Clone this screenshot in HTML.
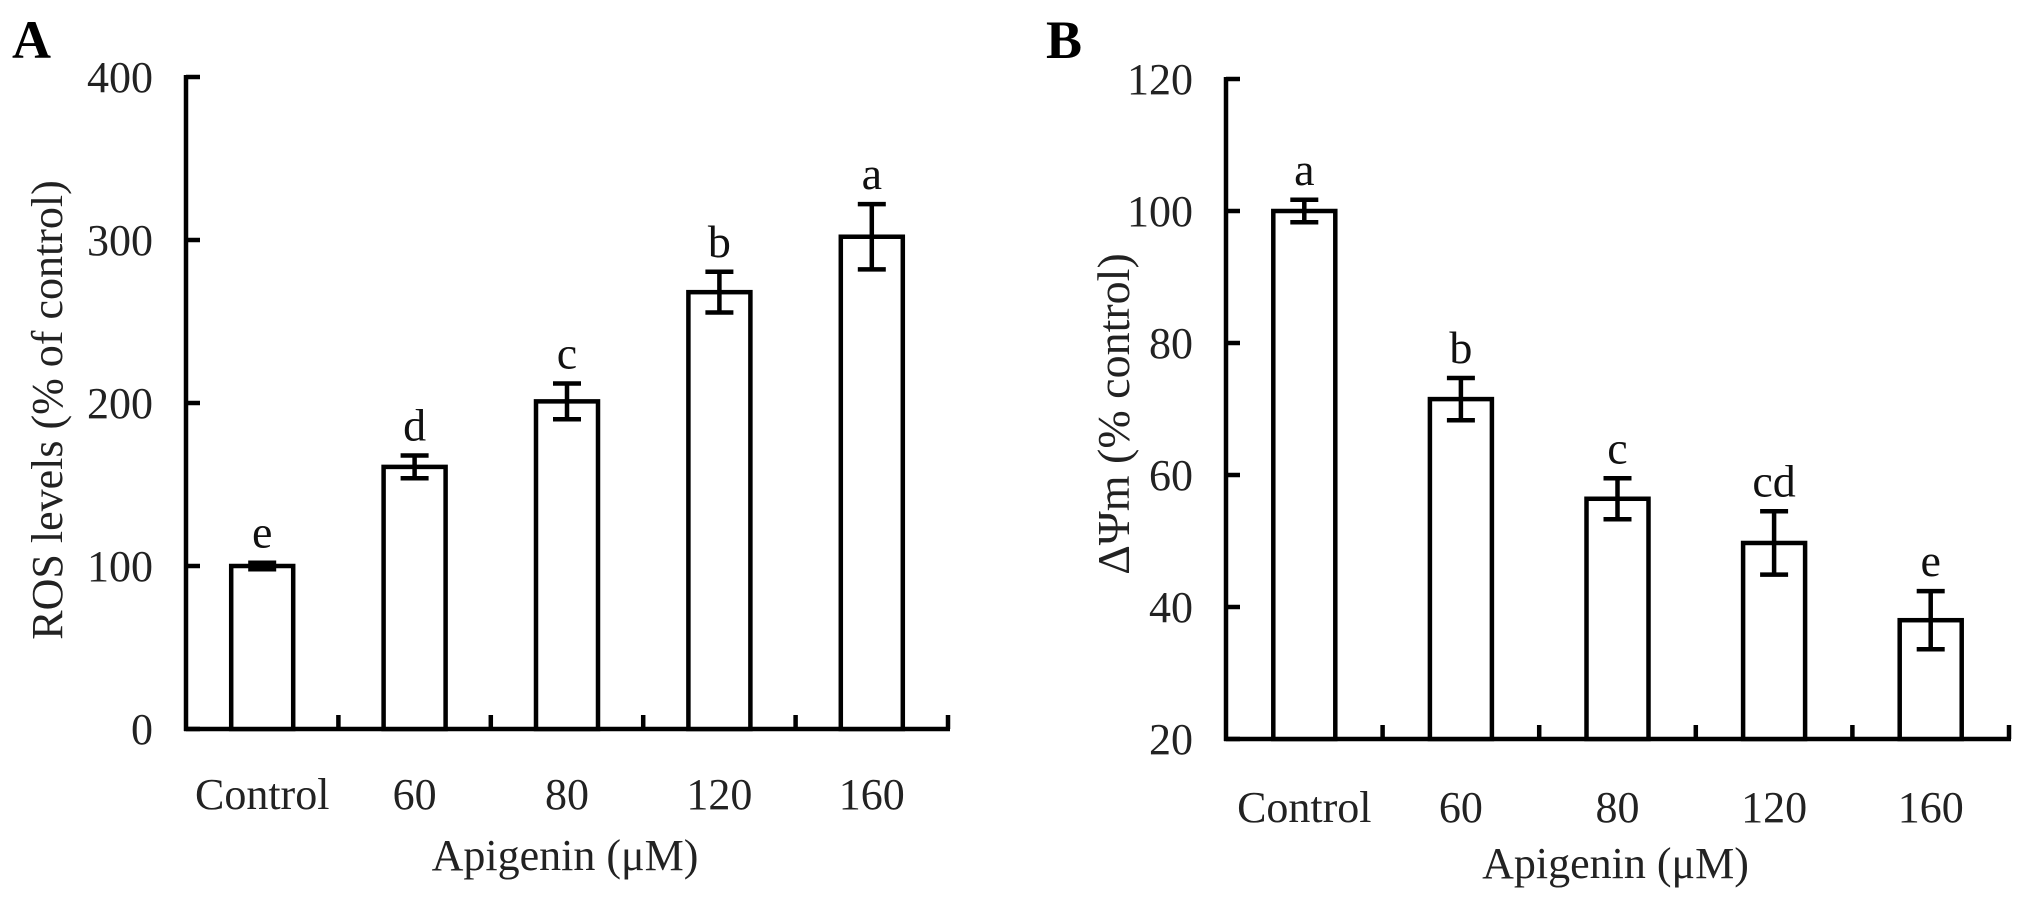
<!DOCTYPE html>
<html><head><meta charset="utf-8"><style>
html,body{margin:0;padding:0;background:#fff;}
svg{display:block;font-family:"Liberation Serif","Times New Roman",serif;}
</style></head><body>
<svg id="chart" width="2031" height="905" viewBox="0 0 2031 905"></svg>
<script>
const categories = ["Control","60","80","120","160"];
const rosValues = [100, 160.8, 201, 268, 302];
const rosErrors = [2, 7, 11, 12.5, 20];
const rosLetters = ["e","d","c","b","a"];
const rosTicks = [0,100,200,300,400];
const psiValues = [100, 71.5, 56.4, 49.7, 38.0];
const psiErrors = [1.7, 3.2, 3.1, 4.8, 4.4];
const psiLetters = ["a","b","c","cd","e"];
const psiTicks = [20,40,60,80,100,120];

const NS = "http://www.w3.org/2000/svg";
const svg = document.getElementById('chart');
function mk(tag, attrs, parent){
  const e = document.createElementNS(NS, tag);
  for (const k in attrs) e.setAttribute(k, attrs[k]);
  (parent||svg).appendChild(e);
  return e;
}

function panel(o){
  const g = mk('g', {});
  
  
  const y = v => o.y0 - (v - o.vmin) / (o.vmax - o.vmin) * (o.y0 - o.y1);
  const cw = (o.xEnd - o.x0) / categories.length;
  const cx = i => o.x0 + cw * (i + 0.5);
  const sw = 4.5;
  const ya = mk('line', {x1:o.x0, y1:o.y1-2, x2:o.x0, y2:o.y0+2, stroke:'#000','stroke-width':sw}, g);
  
  
  const xa = mk('line', {x1:o.x0-2, y1:o.y0, x2:o.xEnd+2, y2:o.y0, stroke:'#000','stroke-width':sw}, g);
  
  
  o.ticks.forEach(t => {
    const ty = y(t);
    const tl = mk('line', {x1:o.x0, y1:ty, x2:o.x0+14, y2:ty, stroke:'#000','stroke-width':sw}, g);
    
    
    const tx = mk('text', {x:o.x0-33, y:ty+15, 'text-anchor':'end','font-size':44, fill:'#222'}, g);
    tx.textContent = t;
    
    
  });
  for (let i = 1; i <= categories.length; i++) {
    const xx = o.x0 + cw * i;
    const xt = mk('line', {x1:xx, y1:o.y0, x2:xx, y2:o.y0-14, stroke:'#000','stroke-width':sw}, g);
    
    
  }
  categories.forEach((c, i) => {
    const v = o.values[i], e = o.errors[i];
    const bw = 62;
    const bar = mk('rect', {x:cx(i)-bw/2, y:y(v), width:bw, height:o.y0-y(v), fill:'#fff', stroke:'#000','stroke-width':sw}, g);
    
    
    const eb = mk('path', {d:`M${cx(i)},${y(v+e)}V${y(v-e)}M${cx(i)-14},${y(v+e)}H${cx(i)+14}M${cx(i)-14},${y(v-e)}H${cx(i)+14}`, stroke:'#000','stroke-width':sw, fill:'none'}, g);
    
    
    const lt = mk('text', {x:cx(i), y:y(v+e)-15, 'text-anchor':'middle','font-size':46, fill:'#111'}, g);
    lt.textContent = o.letters[i];
    
    
    const xl = mk('text', {x:cx(i), y:o.labelY, 'text-anchor':'middle','font-size':44, fill:'#222'}, g);
    xl.textContent = c;
    
    
  });
  const xt = mk('text', {x:(o.x0+o.xEnd)/2 - 2, y:o.titleY, 'text-anchor':'middle','font-size':44, fill:'#222'}, g);
  xt.textContent = 'Apigenin (\u03bcM)';
  
  
  const yt = mk('text', {x:0, y:0, 'text-anchor':'middle','font-size':o.yTitleSize, fill:'#222', transform:`translate(${o.yTitleX},${o.yTitleY}) rotate(-90)`}, g);
  yt.textContent = o.yTitle;
  
  
  const pl = mk('text', {x:o.labelX, y:o.labelTop, 'font-size':54,'font-weight':'bold', fill:'#000'}, g);
  pl.textContent = o.panelLabel;
  
  
}

panel({name:'panel-a', x0:186, xEnd:948, y0:729, y1:77, vmin:0, vmax:400,
  values:rosValues, errors:rosErrors, letters:rosLetters, ticks:rosTicks,
  labelY:809, titleY:870, yTitle:'ROS levels (% of control)', yTitleX:62, yTitleY:410, yTitleSize:44,
  panelLabel:'A', labelX:12, labelTop:58});
panel({name:'panel-b', x0:1226, xEnd:2009, y0:739, y1:79, vmin:20, vmax:120,
  values:psiValues, errors:psiErrors, letters:psiLetters, ticks:psiTicks,
  labelY:822, titleY:878, yTitle:'\u0394\u03a8m (% control)', yTitleX:1129, yTitleY:414, yTitleSize:46,
  panelLabel:'B', labelX:1046, labelTop:58});
</script>
</body></html>
